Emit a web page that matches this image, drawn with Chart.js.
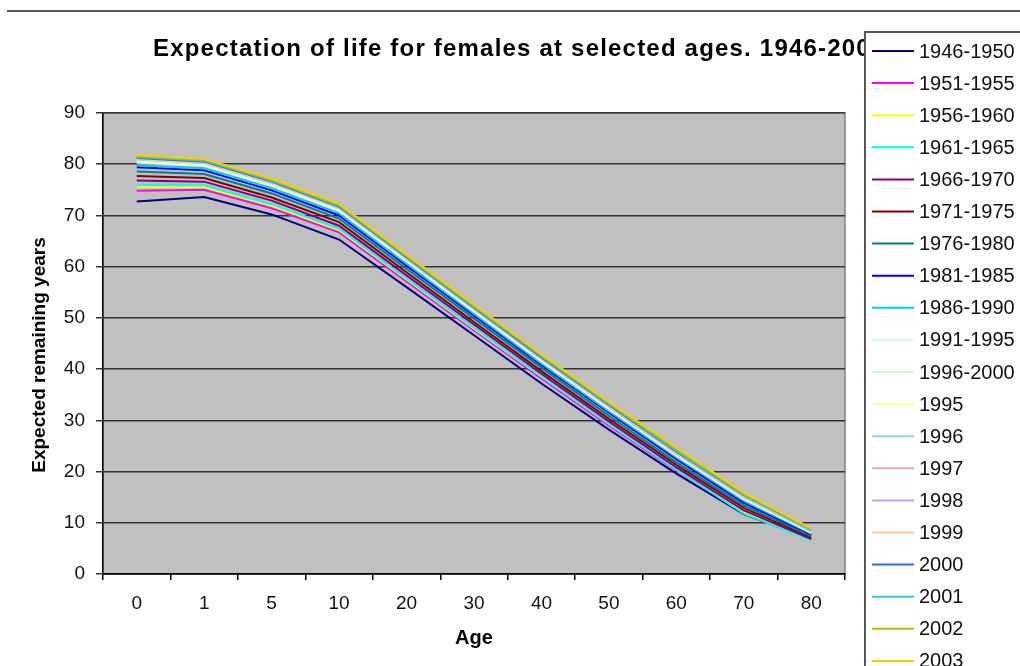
<!DOCTYPE html>
<html>
<head>
<meta charset="utf-8">
<title>Expectation of life for females at selected ages</title>
<script src="https://cdn.jsdelivr.net/npm/chart.js@4.4.1/dist/chart.umd.min.js"></script>
<style>
  body { margin: 0; background: #fff; }
  #wrap { position: relative; width: 1020px; height: 666px; }
</style>
</head>
<body>
<div id="wrap"><canvas id="chart" width="1020" height="666"></canvas></div>
<script>
// ages on the x axis
var ages = ['0', '1', '5', '10', '20', '30', '40', '50', '60', '70', '80'];

// one series per period
var p1946_1950 = [72.7, 73.6, 70.2, 65.3, 56.0, 46.6, 37.2, 28.2, 19.6, 11.7, 6.8];
var p1951_1955 = [74.8, 75.0, 71.4, 66.7, 57.1, 47.6, 38.2, 29.0, 20.2, 12.0, 6.8];
var p1956_1960 = [75.5, 75.5, 71.9, 67.1, 57.5, 47.9, 38.5, 29.3, 20.4, 12.0, 6.7];
var p1961_1965 = [76.0, 75.9, 72.2, 67.4, 57.7, 48.1, 38.6, 29.4, 20.4, 11.8, 6.6];
var p1966_1970 = [76.8, 76.6, 72.9, 68.0, 58.3, 48.7, 39.1, 29.8, 20.8, 12.4, 6.8];
var p1971_1975 = [77.7, 77.3, 73.5, 68.7, 58.9, 49.2, 39.6, 30.3, 21.3, 12.9, 7.1];
var p1976_1980 = [78.6, 78.1, 74.3, 69.4, 59.6, 49.9, 40.3, 30.9, 21.8, 13.4, 7.4];
var p1981_1985 = [79.4, 78.8, 74.9, 70.0, 60.2, 50.5, 40.8, 31.5, 22.4, 13.9, 7.7];
var p1986_1990 = [79.8, 79.2, 75.3, 70.4, 60.6, 50.8, 41.1, 31.8, 22.8, 14.3, 7.9];
var p1991_1995 = [80.3, 79.7, 75.8, 70.9, 61.0, 51.2, 41.5, 32.2, 23.1, 14.6, 8.1];
var p1996_2000 = [80.8, 80.1, 76.2, 71.3, 61.4, 51.6, 41.9, 32.6, 23.5, 15.0, 8.3];
var y1995 = [80.5, 79.9, 76.0, 71.1, 61.2, 51.4, 41.7, 32.3, 23.2, 14.7, 8.1];
var y1996 = [80.9, 80.2, 76.3, 71.4, 61.5, 51.7, 42.0, 32.6, 23.5, 15.0, 8.3];
var y1997 = [81.0, 80.3, 76.4, 71.5, 61.6, 51.8, 42.1, 32.7, 23.6, 15.1, 8.4];
var y1998 = [81.1, 80.4, 76.5, 71.6, 61.7, 51.9, 42.2, 32.9, 23.8, 15.3, 8.5];
var y1999 = [81.0, 80.3, 76.4, 71.5, 61.6, 51.8, 42.1, 32.8, 23.7, 15.2, 8.5];
var y2000 = [81.2, 80.5, 76.6, 71.7, 61.8, 52.0, 42.3, 33.0, 23.9, 15.4, 8.6];
var y2001 = [81.4, 80.7, 76.8, 71.9, 62.0, 52.2, 42.5, 33.2, 24.1, 15.5, 8.6];
var y2002 = [81.6, 80.9, 77.0, 72.1, 62.2, 52.4, 42.7, 33.4, 24.4, 15.7, 8.8];
var y2003 = [81.8, 81.0, 77.2, 72.3, 62.4, 52.6, 42.9, 33.6, 24.7, 15.9, 8.9];

var periods = ['1946-1950', '1951-1955', '1956-1960', '1961-1965', '1966-1970',
               '1971-1975', '1976-1980', '1981-1985', '1986-1990', '1991-1995',
               '1996-2000', '1995', '1996', '1997', '1998', '1999', '2000',
               '2001', '2002', '2003'];
var series = [p1946_1950, p1951_1955, p1956_1960, p1961_1965, p1966_1970,
              p1971_1975, p1976_1980, p1981_1985, p1986_1990, p1991_1995,
              p1996_2000, y1995, y1996, y1997, y1998, y1999, y2000,
              y2001, y2002, y2003];
// old excel line palette
var colors = ['#000080', '#ff00ff', '#ffff00', '#00ffff', '#800080',
              '#800000', '#008080', '#0000ff', '#00ccff', '#ccffff',
              '#ccffcc', '#ffff99', '#99ccff', '#ff99cc', '#cc99ff',
              '#ffcc99', '#3366ff', '#33cccc', '#99cc00', '#ffcc00'];

var titleText = 'Expectation of life for females at selected ages. 1946-2003';
var yTitleText = 'Expected remaining years';
var FONT = "'Liberation Sans', Arial, sans-serif";

// grey plot area with its thin border
var plotBackground = {
    id: 'plotBackground',
    beforeDraw: function(chart){
        var ctx = chart.ctx, a = chart.chartArea;
        ctx.save();
        ctx.fillStyle = '#c0c0c0';
        ctx.fillRect(a.left, a.top, a.right - a.left, a.bottom - a.top);
        ctx.strokeStyle = '#808080';
        ctx.lineWidth = 1.5;
        ctx.strokeRect(a.left, a.top, a.right - a.left, a.bottom - a.top);
        ctx.restore();
    }
};

// page rule, titles and the legend box that sits over the title
var decorations = {
    id: 'decorations',
    afterDraw: function(chart){
        var ctx = chart.ctx;
        ctx.save();
        // rule at top of page
        ctx.strokeStyle = '#555';
        ctx.lineWidth = 2;
        ctx.beginPath();
        ctx.moveTo(7, 11);
        ctx.lineTo(1020, 11);
        ctx.stroke();

        // title (runs under the legend box, as in the original)
        ctx.fillStyle = '#000';
        ctx.font = 'bold 24px ' + FONT;
        ctx.textAlign = 'left';
        ctx.textBaseline = 'alphabetic';
        ctx.letterSpacing = '1.2px';
        ctx.fillText(titleText, 153, 56);
        ctx.letterSpacing = '0px';

        // y axis title, sits a little below the plot middle in the original
        ctx.save();
        ctx.translate(40, 355);
        ctx.rotate(-Math.PI / 2);
        ctx.font = 'bold 19px ' + FONT;
        ctx.textAlign = 'center';
        ctx.textBaseline = 'middle';
        ctx.fillText(yTitleText, 0, 0);
        ctx.restore();

        // legend
        ctx.fillStyle = '#fff';
        ctx.fillRect(865, 32, 170, 650);
        ctx.strokeStyle = '#555';
        ctx.lineWidth = 2;
        ctx.strokeRect(865, 32, 170, 650);
        ctx.font = '20px ' + FONT;
        ctx.textAlign = 'left';
        ctx.textBaseline = 'middle';
        chart.data.datasets.forEach(function(ds, i){
            var y = 51 + i * 32.1;
            ctx.strokeStyle = ds.borderColor;
            ctx.lineWidth = 2;
            ctx.beginPath();
            ctx.moveTo(872, y);
            ctx.lineTo(914, y);
            ctx.stroke();
            ctx.fillStyle = '#111';
            ctx.fillText(ds.label, 919, y + 1);
        });
        ctx.restore();
    }
};

var datasets = [];
for (var i = 0; i < series.length; i++) {
    datasets.push({
        label: periods[i],
        data: series[i],
        borderColor: colors[i],
        backgroundColor: colors[i],
        borderWidth: 2,
        fill: false,
        // later periods painted on top, like the original
        order: series.length - i
    });
}

new Chart(document.getElementById('chart'), {
    type: 'line',
    data: { labels: ages, datasets: datasets },
    plugins: [plotBackground, decorations],
    options: {
        responsive: false,
        animation: false,
        layout: { padding: { left: 0, right: 175, top: 113, bottom: 10 } },
        elements: {
            point: { radius: 0 },
            line: { tension: 0 }
        },
        plugins: {
            legend: { display: false },
            title: { display: false },
            tooltip: { enabled: false }
        },
        scales: {
            x: {
                offset: true,
                grid: {
                    offset: true,
                    drawOnChartArea: false,
                    drawTicks: true,
                    tickLength: 6,
                    color: '#000',
                    lineWidth: 1.5
                },
                border: { display: true, color: '#000', width: 1.5 },
                ticks: {
                    color: '#111',
                    font: { family: FONT, size: 19 },
                    padding: 12,
                    maxRotation: 0,
                    autoSkip: false
                },
                title: {
                    display: true,
                    text: 'Age',
                    color: '#000',
                    font: { family: FONT, size: 20, weight: 'bold' },
                    padding: { top: 0, bottom: 6 }
                },
                afterFit: function(scale){ scale.height = 82; }
            },
            y: {
                min: 0,
                max: 90,
                grid: {
                    color: '#333',
                    lineWidth: 1.5,
                    drawTicks: true,
                    tickLength: 7
                },
                border: { display: true, color: '#000', width: 1.5 },
                ticks: {
                    stepSize: 10,
                    color: '#111',
                    font: { family: FONT, size: 19 },
                    padding: 11
                },
                afterFit: function(scale){ scale.width = 103; }
            }
        }
    }
});
</script>
</body>
</html>
